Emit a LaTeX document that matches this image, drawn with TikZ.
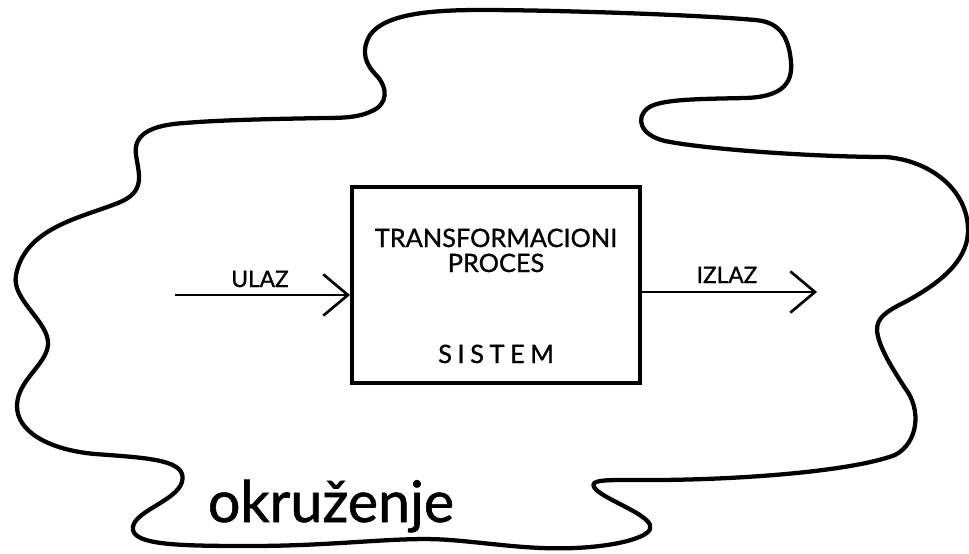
\documentclass[tikz,border=0pt]{standalone}
\usepackage{fontspec}
\setmainfont[FakeBold=1]{Lato}
\newfontfamily\razmaknut[LetterSpace=22, FakeBold=1]{Lato}
\usetikzlibrary{arrows.meta}

\tikzset{every picture/.style={line width=0.75pt}}
\tikzset{
  oblak/.style={line width=3.2pt, line join=round},
  sistembox/.style={draw, line width=3pt, minimum width=216pt, minimum height=147pt, inner sep=0pt},
  tok/.style={line width=2pt, -{Straight Barb[length=18.5pt, width=31pt, line width=2pt]}},
  natpis/.style={inner sep=0pt, font=\fontsize{17}{19}\selectfont},
  unutra/.style={inner sep=0pt, font=\fontsize{19}{21}\selectfont},
}

\begin{document}
\begin{tikzpicture}[x=0.75pt,y=0.75pt,yscale=-1,xscale=1]
\useasboundingbox (0,0) rectangle (969,553);

\draw [oblak] (480,10) .. controls (430,10) and (385,14) .. (370,35) .. controls (360,52) and (366,65) .. (377,76) .. controls (388,88) and (388,104) .. (372,111) .. controls (360,117) and (345,118) .. (325,118) .. controls (270,119) and (220,120) .. (185,123) .. controls (150,125) and (133,135) .. (136,155) .. controls (139,175) and (146,192) .. (118,203) .. controls (80,218) and (25,228) .. (16,275) .. controls (11,300) and (50,322) .. (48,345) .. controls (46,365) and (18,380) .. (17,405) .. controls (16,432) and (50,450) .. (95,454) .. controls (150,458) and (188,460) .. (182,482) .. controls (176,502) and (130,512) .. (133,530) .. controls (136,545) and (180,546) .. (250,546) .. controls (340,546) and (400,536) .. (450,540) .. controls (490,543) and (530,550) .. (575,548) .. controls (620,546) and (655,536) .. (650,525) .. controls (645,512) and (600,498) .. (594,487) .. controls (590,480) and (605,480) .. (630,480) .. controls (730,481) and (850,472) .. (895,455) .. controls (918,443) and (922,410) .. (905,388) .. controls (890,365) and (878,345) .. (877,330) .. controls (877,318) and (885,312) .. (905,302) .. controls (950,278) and (968,255) .. (968,230) .. controls (968,190) and (930,160) .. (885,157) .. controls (820,157) and (710,150) .. (665,141) .. controls (640,135) and (635,118) .. (648,108) .. controls (660,99) and (700,99) .. (745,98) .. controls (780,97) and (793,85) .. (791,62) .. controls (789,40) and (782,22) .. (755,20) .. controls (700,15) and (560,10) .. (480,10) -- cycle ;

\node [sistembox] (sistem) at (496,285) {};
\node [unutra, anchor=base] (transf) at (496,247) {TRANSFORMACIONI};
\node [unutra, anchor=base] (proces) at ([yshift=18.75pt]transf.base) {PROCES};
\node [unutra, anchor=base, font=\razmaknut\fontsize{19}{21}\selectfont] (naziv) at (496,363) {SISTEM};

\coordinate (ulazpoc) at (175,295);
\coordinate (izlazkraj) at (817,292);
\draw [tok] (ulazpoc) -- (sistem.west |- ulazpoc);
\draw [tok] (sistem.east |- izlazkraj) -- (izlazkraj);

\node [natpis, anchor=base] (ulaz) at (260,287) {ULAZ};
\node [natpis, anchor=base] (izlaz) at (727,283) {IZLAZ};

\node [inner sep=0pt, anchor=base, font=\fontsize{43}{48}\selectfont] (okruzenje) at (331,522) {okruženje};

\end{tikzpicture}
\end{document}
